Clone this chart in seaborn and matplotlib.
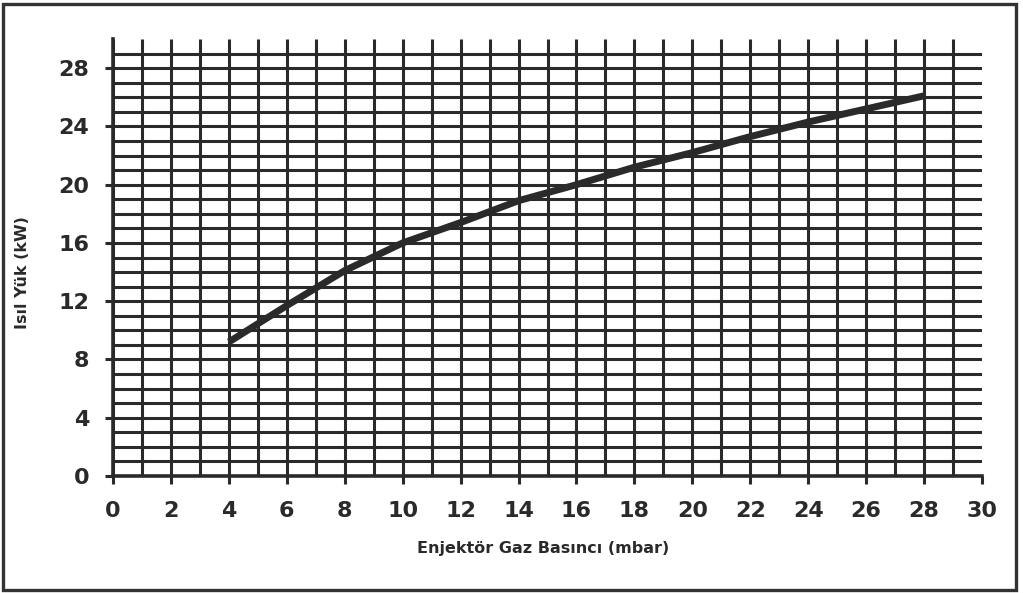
import matplotlib
matplotlib.use("Agg")
import matplotlib.pyplot as plt
from matplotlib.patches import Rectangle
import seaborn as sns
import pandas as pd

# Injector gas pressure (mbar) vs. heat load (kW)
pressure = [4, 6, 8, 10, 12, 14, 16, 18, 20, 22, 24, 26, 28]
heat_load = [9.2, 11.7, 14.1, 16.0, 17.4, 18.9, 20.0, 21.2, 22.2, 23.3, 24.3, 25.2, 26.1]

x_ticks = list(range(0, 31, 2))
y_ticks = list(range(0, 29, 4))
grid_steps = list(range(0, 30))

x_label = "Enjektör Gaz Basıncı (mbar)"
y_label = "Isıl Yük (kW)"

ink = "#2a2a2a"

sns.set_style("white")
plt.rcParams["font.family"] = ["DejaVu Sans"]

fig = plt.figure(figsize=(10.23, 5.93), dpi=100)
ax = fig.add_axes([113 / 1023, 1 - 476 / 593, 869 / 1023, (476 - 39) / 593])

ax.set_xlim(0, 30)
ax.set_ylim(0, 30)

# Unit grid: verticals run to the top of the axes, horizontals to the right edge
ax.vlines(grid_steps, 0, 30, color=ink, linewidth=2.2, zorder=1)
ax.hlines(grid_steps, 0, 30, color=ink, linewidth=2.2, zorder=1)

df = pd.DataFrame({"p": pressure, "q": heat_load})
sns.lineplot(data=df, x="p", y="q", ax=ax, color=ink, linewidth=5,
             solid_capstyle="butt", zorder=5)

ax.set_xticks(x_ticks)
ax.set_yticks(y_ticks)
ax.grid(False)

for s in ("top", "right"):
    ax.spines[s].set_visible(False)
for s in ("left", "bottom"):
    ax.spines[s].set_color(ink)
    ax.spines[s].set_linewidth(2.6)

ax.tick_params(which="major", length=6, width=2.2, color=ink,
               labelsize=16, labelcolor=ink)
ax.tick_params(axis="x", direction="out", pad=12, bottom=True)
ax.tick_params(axis="y", direction="out", pad=11, left=True)
for lbl in ax.get_xticklabels() + ax.get_yticklabels():
    lbl.set_fontweight("bold")

ax.set_xlabel(x_label, fontsize=11.5, fontweight="bold", color=ink,
              ha="center", va="center")
ax.set_ylabel(y_label, fontsize=11.5, fontweight="bold", color=ink,
              ha="center", va="center")
ax.xaxis.set_label_coords(0.495, -0.166)
ax.yaxis.set_label_coords(-0.1036, 0.465)

# Frame around the whole figure
fig.patches.append(Rectangle((2.5 / 1023, 3.5 / 593), 1013 / 1023, 586 / 593,
                             transform=fig.transFigure, fill=False,
                             edgecolor="#333333", linewidth=2.4))

fig.savefig("out.png", dpi=100, facecolor="white")
